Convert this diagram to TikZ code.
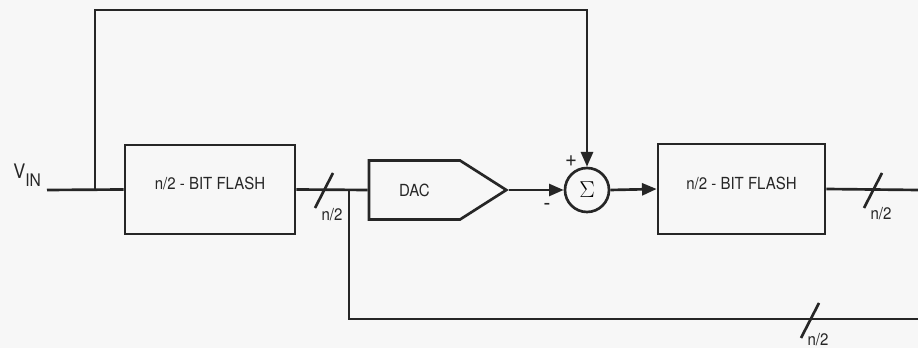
\documentclass[tikz,border=0pt]{standalone}
\usepackage{fontspec}
\setmainfont[FakeStretch=0.9]{TeX Gyre Heros}
\usetikzlibrary{arrows.meta,shapes.symbols}

\begin{document}
\begin{tikzpicture}[x=0.75pt,y=-0.75pt,
  wire/.style={line width=2pt,draw=black!85},
  sig/.style={wire,-{Triangle[length=11pt,width=9pt]}},
  flash/.style={wire,inner sep=0pt},
  txt/.style={font=\fontsize{12.5}{14}\selectfont,text=black!85,inner sep=0pt}]
\useasboundingbox (0,0) rectangle (918,348);
\fill[black!3] (0,0) rectangle (918,348);
\clip (0,0) rectangle (918,348);
\node[txt,anchor=base west] (vinlbl) at (13,179) {\fontsize{15}{16}\selectfont V\raisebox{-6pt}{\fontsize{13}{14}\selectfont IN}};
\coordinate (vin) at (47,190);
\coordinate (split1) at (95,190);
\coordinate (fbtop) at (95,10);
\coordinate (split2) at (349,190);
\coordinate (botend) at (918,319);
\coordinate (outend) at (918,190);
\node[flash,minimum width=127.5pt,minimum height=66.75pt] (flashA) at (210,189.5) {};
\node[txt] (flashAtxt) at (210,183) {n/2 - BIT FLASH};
\node[wire,signal,signal to=east,signal pointer angle=65,minimum height=44.25pt,txt,text width=68.25pt,align=center] (dac) at (414.5,190) {DAC};
\node[wire,circle,minimum size=33pt,inner sep=0pt,font=\fontsize{16}{18}\selectfont] (sum) at (587,190) {$\Sigma$};
\node[flash,minimum width=125.25pt,minimum height=67.5pt] (flashB) at (741.5,189) {};
\node[txt] (flashBtxt) at (741.5,183) {n/2 - BIT FLASH};
\node[txt,font=\fontsize{17}{18}\selectfont] (plus) at (571,161) {+};
\node[txt,font=\fontsize{17}{18}\selectfont] (minus) at (547,207) {-};
\draw[wire] (vin) -- (flashA.west);
\draw[sig] (split1) -- (fbtop) -| (sum.north);
\draw[wire] (flashA.east) -- (dac.west);
\draw[wire] (split2) |- (botend);
\draw[sig] (dac.east) -- (sum.west);
\draw[sig] (sum.east) -- (flashB.west);
\draw[wire] (flashB.east) -- (outend);
\foreach \n/\sx/\sy/\lx/\ly in {busA/324/190/332/215, busB/873/190/881/214, busC/810/320/818/340}{
  \draw[wire] (\sx,\sy) ++(-9,18) -- ++(18,-35);
  \node[txt] (\n) at (\lx,\ly) {n/2};
}
\end{tikzpicture}
\end{document}
